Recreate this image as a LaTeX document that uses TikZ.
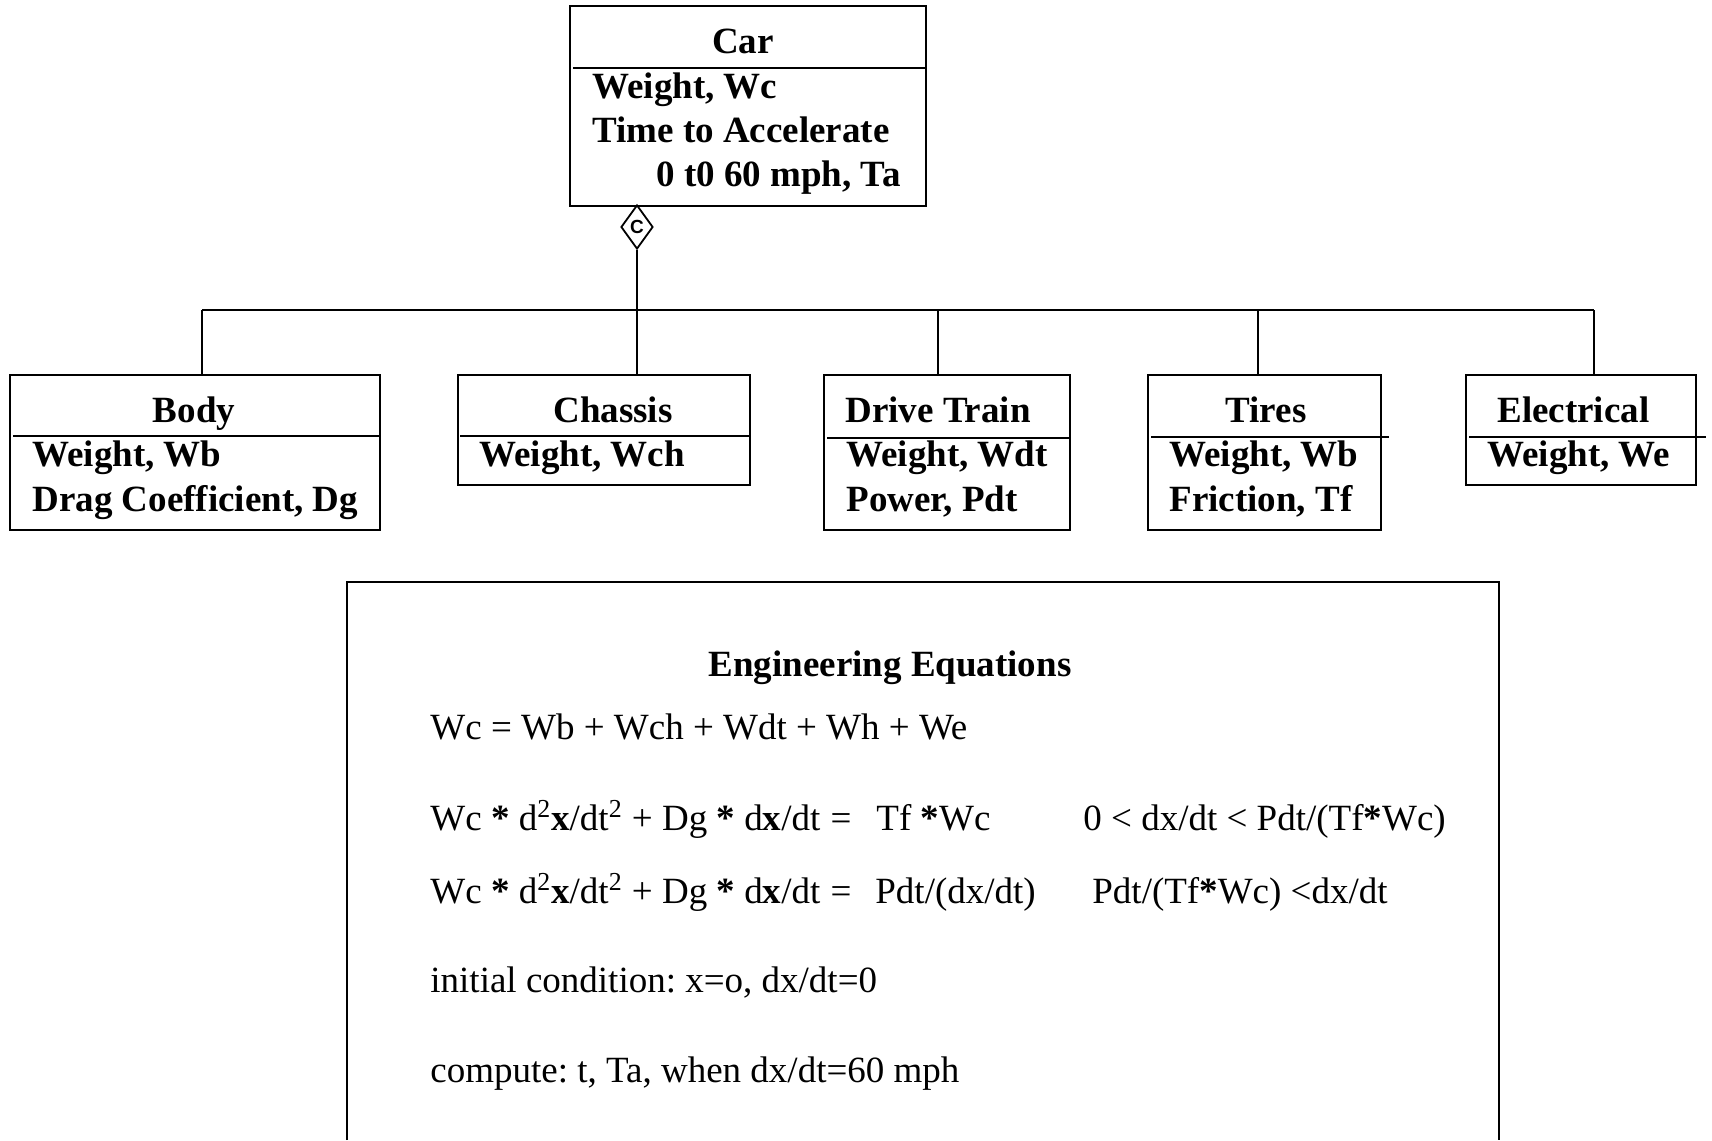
\documentclass[tikz,border=0pt]{standalone}
\usepackage{fontspec}
\setmainfont{Liberation Serif}
\newfontfamily\diafont{Liberation Sans}
\usetikzlibrary{shapes.geometric}
\frenchspacing
\begin{document}
\begin{tikzpicture}[x=0.5pt,y=-0.5pt,
  box/.style={draw,line width=1pt,rectangle,inner sep=0pt},
  frame/.style={line width=1pt},
  divline/.style={line width=1pt},
  conn/.style={line width=0.8pt},
  ttl/.style={inner sep=0pt,anchor=base,font=\fontsize{18.5pt}{22pt}\selectfont\bfseries},
  ttlw/.style={inner sep=0pt,anchor=base west,font=\fontsize{18.5pt}{22pt}\selectfont\bfseries},
  attr/.style={inner sep=0pt,anchor=base west,font=\fontsize{18.5pt}{22pt}\selectfont\bfseries},
  eq/.style={inner sep=0pt,anchor=base west,font=\fontsize{18.5pt}{22pt}\selectfont},
  eqc/.style={inner sep=0pt,anchor=base,font=\fontsize{18.5pt}{22pt}\selectfont},
]
\useasboundingbox (0,0) rectangle (1712,1140);

% class boxes
\node[box,minimum width=178pt,minimum height=100pt] (car) at (748,106) {};
\node[box,minimum width=185pt,minimum height=77.5pt] (body) at (195,452.5) {};
\node[box,minimum width=146.25pt,minimum height=55pt] (chassis) at (603.75,430) {};
\node[box,minimum width=123pt,minimum height=77.5pt] (drive) at (947,452.5) {};
\node[box,minimum width=116.75pt,minimum height=77.5pt] (tires) at (1264.25,452.5) {};
\node[box,minimum width=115pt,minimum height=55pt] (elec) at (1581,430) {};

% dividers
\draw[divline] (573,68) -- (926,68);
\draw[divline] (13,436) -- (380,436);
\draw[divline] (460,436) -- (749,436);
\draw[divline] (827,438) -- (1069,438);
\draw[divline] (1151,437) -- (1389,437);
\draw[divline] (1469,437) -- (1706,437);

% composition diamond
\node[diamond,draw,line width=0.9pt,minimum width=16pt,minimum height=22pt,inner sep=0pt,
      font=\diafont\bfseries\fontsize{9.5pt}{10pt}\selectfont] (comp) at (637,227) {C};

% bus
\coordinate (b0) at (637,310);
\coordinate (j1) at (202,310);
\coordinate (j3) at (938,310);
\coordinate (j4) at (1258,310);
\coordinate (j5) at (1594,310);
\draw[conn] (comp.south) -- (b0);
\draw[conn] (j1) -- (j5);
\draw[conn] (j1) -- (j1 |- body.north);
\draw[conn] (b0) -- (b0 |- chassis.north);
\draw[conn] (j3) -- (j3 |- drive.north);
\draw[conn] (j4) -- (j4 |- tires.north);
\draw[conn] (j5) -- (j5 |- elec.north);

% texts in boxes
\node[ttl] (tcar) at (743,53) {Car};
\node[attr] (acar1) at (592,98) {Weight, Wc};
\node[attr] (acar2) at (592,142) {Time to Accelerate};
\node[attr] (acar3) at (656,186) {0 t0 60 mph, Ta};

\node[ttl] (tbody) at (194,422) {Body};
\node[attr] (abody1) at (32,466) {Weight, Wb};
\node[attr] (abody2) at (32,511) {Drag Coefficient, Dg};

\node[ttl] (tchassis) at (613,422) {Chassis};
\node[attr] (achassis1) at (479,466) {Weight, Wch};

\node[ttlw] (tdrive) at (845,422) {Drive Train};
\node[attr] (adrive1) at (846,466) {Weight, Wdt};
\node[attr] (adrive2) at (846,511) {Power, Pdt};

\node[ttl] (ttires) at (1266,422) {Tires};
\node[attr] (atires1) at (1169,466) {Weight, Wb};
\node[attr] (atires2) at (1169,511) {Friction, Tf};

\node[ttlw] (telec) at (1497,422) {Electrical};
\node[attr] (aelec1) at (1487,466) {Weight, We};

% equations frame
\coordinate (f1) at (347,1140);
\coordinate (f2) at (347,582);
\coordinate (f3) at (1499,582);
\coordinate (f4) at (1499,1140);
\draw[frame] (f1) -- (f2) -- (f3) -- (f4);

\node[ttl] (eqt) at (890,676) {Engineering Equations};
\node[eq] (e1) at (430,739) {Wc = Wb + Wch + Wdt + Wh + We};
\node[eq] (e2a) at (430,830) {Wc \textbf{*} d\textsuperscript{2}\textbf{x}/dt\textsuperscript{2} + Dg \textbf{*} d\textbf{x}/dt};
\node[eqc] (e2b) at (841,830) {=};
\node[eq] (e2c) at (876,830) {Tf \textbf{*}Wc};
\node[eq] (e2d) at (1083,830) {0 < dx/dt < Pdt/(Tf\textbf{*}Wc)};
\node[eq] (e3a) at (430,903) {Wc \textbf{*} d\textsuperscript{2}\textbf{x}/dt\textsuperscript{2} + Dg \textbf{*} d\textbf{x}/dt};
\node[eqc] (e3b) at (841,903) {=};
\node[eq] (e3c) at (875,903) {Pdt/(dx/dt)};
\node[eq] (e3d) at (1092,903) {Pdt/(Tf\textbf{*}Wc) <dx/dt};
\node[eq] (e4) at (430,992) {initial condition: x=o, dx/dt=0};
\node[eq] (e5) at (430,1082) {compute: t, Ta, when dx/dt=60 mph};
\end{tikzpicture}
\end{document}
